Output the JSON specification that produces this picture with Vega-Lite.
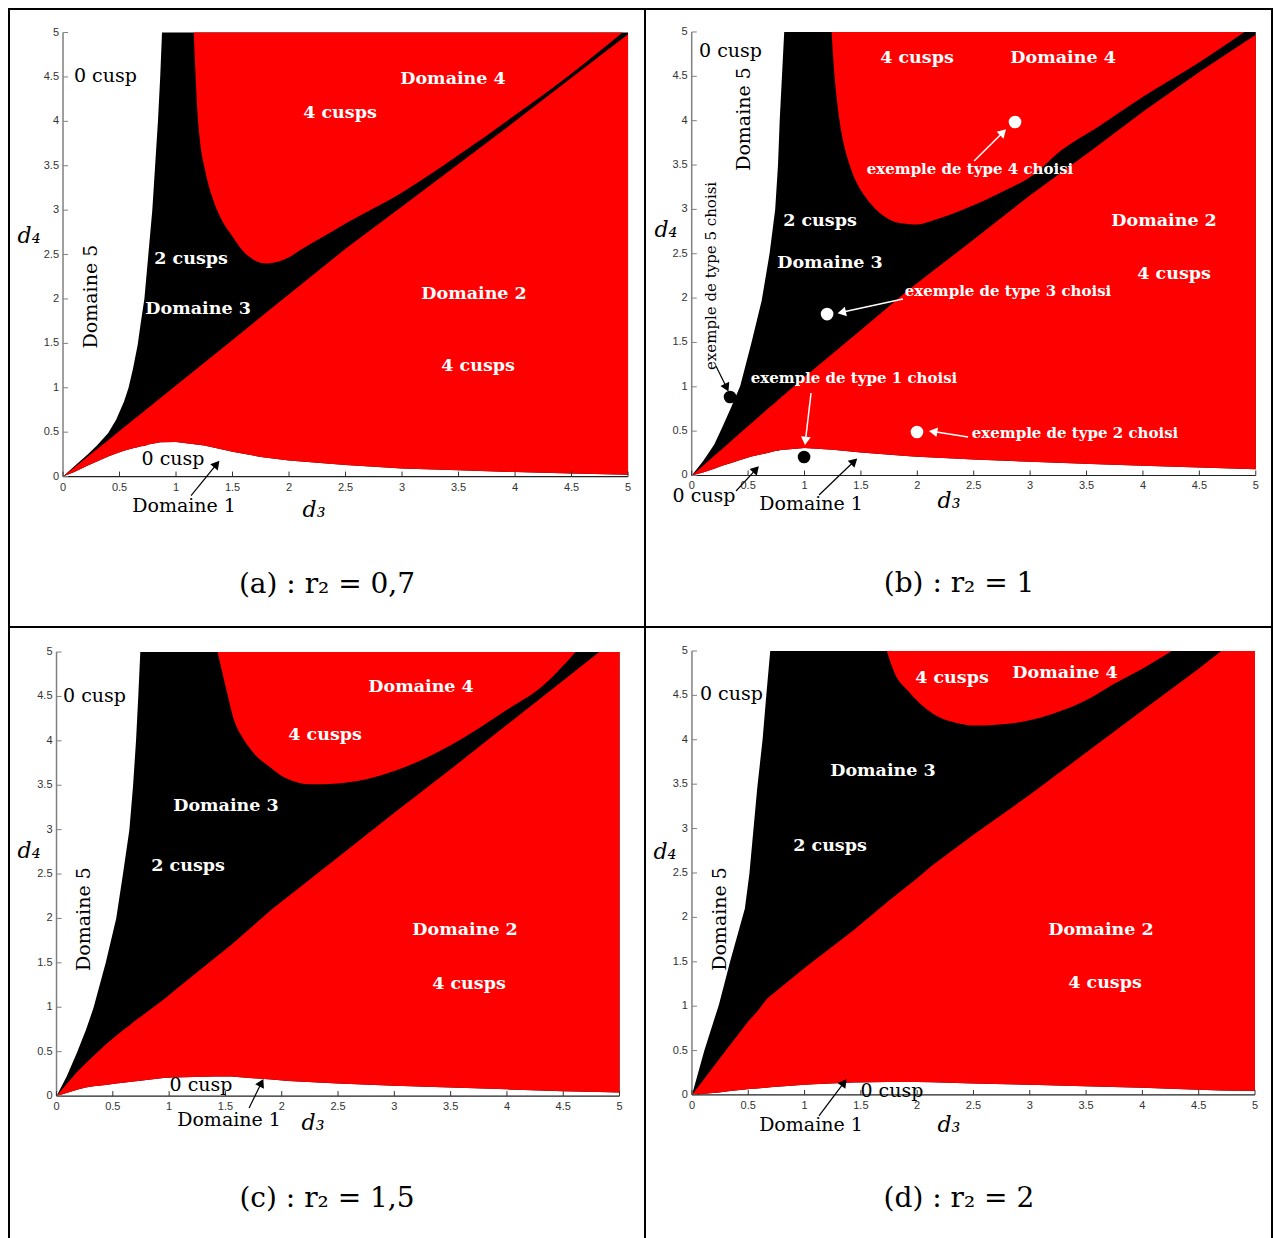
{
"$schema": "https://vega.github.io/schema/vega-lite/v6.json",
"background": "white",
"padding": {"left": 8, "top": 8, "right": 0, "bottom": 0},
"config": {"view": {"stroke": "black", "strokeWidth": 2}, "axis": {"disable": true}},
"datasets": {
"one": [{"k": 1}],
"ticks": [{"v":0,"t":"0"},{"v":0.5,"t":"0.5"},{"v":1,"t":"1"},{"v":1.5,"t":"1.5"},{"v":2,"t":"2"},{"v":2.5,"t":"2.5"},{"v":3,"t":"3"},{"v":3.5,"t":"3.5"},{"v":4,"t":"4"},{"v":4.5,"t":"4.5"},{"v":5,"t":"5"}],
"A_reg": [{"d3":0,"lo":0,"dg":0,"up":0},{"d3":0.1,"lo":0.05,"dg":0.103,"up":0.115},{"d3":0.22,"lo":0.125,"dg":0.226,"up":0.25},{"d3":0.3,"lo":0.17,"dg":0.308,"up":0.35},{"d3":0.4,"lo":0.225,"dg":0.41,"up":0.49},{"d3":0.47,"lo":0.26,"dg":0.482,"up":0.64},{"d3":0.54,"lo":0.29,"dg":0.554,"up":0.845},{"d3":0.58,"lo":0.305,"dg":0.595,"up":1.0},{"d3":0.62,"lo":0.32,"dg":0.636,"up":1.22},{"d3":0.66,"lo":0.33,"dg":0.677,"up":1.48},{"d3":0.69,"lo":0.34,"dg":0.708,"up":1.75},{"d3":0.72,"lo":0.345,"dg":0.739,"up":2.0},{"d3":0.755,"lo":0.36,"dg":0.775,"up":2.5},{"d3":0.79,"lo":0.37,"dg":0.81,"up":3.0},{"d3":0.815,"lo":0.375,"dg":0.836,"up":3.5},{"d3":0.84,"lo":0.38,"dg":0.862,"up":4.0},{"d3":0.86,"lo":0.385,"dg":0.882,"up":4.5},{"d3":0.876,"lo":0.385,"dg":0.899,"up":5},{"d3":1,"lo":0.39,"dg":1.026,"up":5},{"d3":1.25,"lo":0.35,"dg":1.283,"up":5},{"d3":1.5,"lo":0.28,"dg":1.539,"up":5},{"d3":1.75,"lo":0.22,"dg":1.796,"up":5},{"d3":2,"lo":0.18,"dg":2.052,"up":5},{"d3":2.5,"lo":0.13,"dg":2.565,"up":5},{"d3":3,"lo":0.09,"dg":3.04,"up":5},{"d3":3.5,"lo":0.07,"dg":3.52,"up":5},{"d3":4,"lo":0.05,"dg":4.0,"up":5},{"d3":4.5,"lo":0.035,"dg":4.49,"up":5},{"d3":5,"lo":0.02,"dg":4.98,"up":5}],
"A_u": [{"d3":1.157,"b":5},{"d3":1.17,"b":4.6},{"d3":1.185,"b":4.2},{"d3":1.21,"b":3.8},{"d3":1.257,"b":3.45},{"d3":1.32,"b":3.15},{"d3":1.4,"b":2.9},{"d3":1.49,"b":2.72},{"d3":1.6,"b":2.53},{"d3":1.69,"b":2.44},{"d3":1.8,"b":2.4},{"d3":1.87,"b":2.41},{"d3":2,"b":2.47},{"d3":2.1,"b":2.55},{"d3":2.3,"b":2.7},{"d3":2.5,"b":2.85},{"d3":3,"b":3.2},{"d3":3.5,"b":3.62},{"d3":4,"b":4.07},{"d3":4.5,"b":4.54},{"d3":4.95,"b":5}],
"B_reg": [{"d3":0,"lo":0,"dg":0,"up":0},{"d3":0.1,"lo":0.035,"dg":0.11,"up":0.16},{"d3":0.2,"lo":0.075,"dg":0.222,"up":0.35},{"d3":0.27,"lo":0.11,"dg":0.3,"up":0.54},{"d3":0.35,"lo":0.14,"dg":0.39,"up":0.77},{"d3":0.43,"lo":0.175,"dg":0.48,"up":1.01},{"d3":0.53,"lo":0.215,"dg":0.59,"up":1.5},{"d3":0.62,"lo":0.24,"dg":0.69,"up":1.97},{"d3":0.69,"lo":0.26,"dg":0.77,"up":2.5},{"d3":0.74,"lo":0.275,"dg":0.82,"up":3.0},{"d3":0.765,"lo":0.28,"dg":0.85,"up":3.5},{"d3":0.78,"lo":0.285,"dg":0.865,"up":4.0},{"d3":0.8,"lo":0.29,"dg":0.89,"up":4.5},{"d3":0.82,"lo":0.29,"dg":0.91,"up":5},{"d3":1,"lo":0.31,"dg":1.11,"up":5},{"d3":1.25,"lo":0.29,"dg":1.375,"up":5},{"d3":1.5,"lo":0.26,"dg":1.64,"up":5},{"d3":1.9,"lo":0.22,"dg":2.07,"up":5},{"d3":2,"lo":0.21,"dg":2.17,"up":5},{"d3":2.5,"lo":0.18,"dg":2.66,"up":5},{"d3":3,"lo":0.155,"dg":3.16,"up":5},{"d3":3.54,"lo":0.13,"dg":3.66,"up":5},{"d3":4,"lo":0.11,"dg":4.1,"up":5},{"d3":4.5,"lo":0.09,"dg":4.55,"up":5},{"d3":5,"lo":0.07,"dg":4.97,"up":5}],
"B_u": [{"d3":1.24,"b":5},{"d3":1.26,"b":4.6},{"d3":1.29,"b":4.2},{"d3":1.33,"b":3.85},{"d3":1.4,"b":3.5},{"d3":1.47,"b":3.28},{"d3":1.54,"b":3.14},{"d3":1.65,"b":2.98},{"d3":1.75,"b":2.89},{"d3":1.83,"b":2.85},{"d3":2,"b":2.83},{"d3":2.15,"b":2.88},{"d3":2.45,"b":3.02},{"d3":2.74,"b":3.19},{"d3":3.04,"b":3.4},{"d3":3.27,"b":3.66},{"d3":3.6,"b":3.93},{"d3":4,"b":4.27},{"d3":4.5,"b":4.66},{"d3":4.9,"b":5}],
"C_reg": [{"d3":0,"lo":0,"dg":0,"up":0},{"d3":0.09,"lo":0.035,"dg":0.135,"up":0.22},{"d3":0.182,"lo":0.07,"dg":0.27,"up":0.49},{"d3":0.26,"lo":0.095,"dg":0.37,"up":0.74},{"d3":0.328,"lo":0.11,"dg":0.45,"up":0.99},{"d3":0.437,"lo":0.125,"dg":0.58,"up":1.5},{"d3":0.53,"lo":0.14,"dg":0.68,"up":2.0},{"d3":0.59,"lo":0.15,"dg":0.74,"up":2.5},{"d3":0.647,"lo":0.158,"dg":0.795,"up":3.0},{"d3":0.68,"lo":0.163,"dg":0.83,"up":3.5},{"d3":0.706,"lo":0.167,"dg":0.855,"up":4.0},{"d3":0.726,"lo":0.17,"dg":0.875,"up":4.5},{"d3":0.744,"lo":0.173,"dg":0.89,"up":5},{"d3":0.966,"lo":0.205,"dg":1.1,"up":5},{"d3":1.04,"lo":0.21,"dg":1.18,"up":5},{"d3":1.4,"lo":0.22,"dg":1.55,"up":5},{"d3":1.55,"lo":0.22,"dg":1.7,"up":5},{"d3":1.91,"lo":0.185,"dg":2.1,"up":5},{"d3":2.06,"lo":0.17,"dg":2.25,"up":5},{"d3":2.5,"lo":0.14,"dg":2.69,"up":5},{"d3":3,"lo":0.115,"dg":3.19,"up":5},{"d3":3.5,"lo":0.095,"dg":3.68,"up":5},{"d3":4,"lo":0.075,"dg":4.18,"up":5},{"d3":4.5,"lo":0.055,"dg":4.68,"up":5},{"d3":4.82,"lo":0.045,"dg":5,"up":5},{"d3":5,"lo":0.04,"dg":5,"up":5}],
"C_u": [{"d3":1.43,"b":5},{"d3":1.5,"b":4.62},{"d3":1.58,"b":4.22},{"d3":1.66,"b":4.02},{"d3":1.76,"b":3.85},{"d3":1.9,"b":3.7},{"d3":2.02,"b":3.59},{"d3":2.26,"b":3.51},{"d3":2.5,"b":3.52},{"d3":3,"b":3.66},{"d3":3.5,"b":3.95},{"d3":4,"b":4.35},{"d3":4.3,"b":4.6},{"d3":4.61,"b":5}],
"D_reg": [{"d3":0,"lo":0,"dg":0,"up":0},{"d3":0.11,"lo":0.013,"dg":0.183,"up":0.5},{"d3":0.24,"lo":0.029,"dg":0.4,"up":1.02},{"d3":0.34,"lo":0.045,"dg":0.565,"up":1.51},{"d3":0.47,"lo":0.062,"dg":0.78,"up":2.1},{"d3":0.51,"lo":0.067,"dg":0.845,"up":2.49},{"d3":0.58,"lo":0.074,"dg":0.94,"up":3.46},{"d3":0.627,"lo":0.079,"dg":1.02,"up":4.0},{"d3":0.66,"lo":0.082,"dg":1.075,"up":4.5},{"d3":0.695,"lo":0.087,"dg":1.115,"up":5},{"d3":1,"lo":0.115,"dg":1.43,"up":5},{"d3":1.08,"lo":0.12,"dg":1.51,"up":5},{"d3":1.43,"lo":0.14,"dg":1.85,"up":5},{"d3":1.74,"lo":0.145,"dg":2.18,"up":5},{"d3":2,"lo":0.145,"dg":2.44,"up":5},{"d3":2.13,"lo":0.143,"dg":2.58,"up":5},{"d3":2.5,"lo":0.13,"dg":2.93,"up":5},{"d3":3,"lo":0.115,"dg":3.38,"up":5},{"d3":3.4,"lo":0.1,"dg":3.76,"up":5},{"d3":4,"lo":0.08,"dg":4.33,"up":5},{"d3":4.5,"lo":0.06,"dg":4.8,"up":5},{"d3":4.7,"lo":0.05,"dg":5,"up":5},{"d3":5,"lo":0.045,"dg":5,"up":5}],
"D_u": [{"d3":1.73,"b":5},{"d3":1.8,"b":4.75},{"d3":1.92,"b":4.55},{"d3":2.05,"b":4.38},{"d3":2.2,"b":4.25},{"d3":2.35,"b":4.19},{"d3":2.51,"b":4.16},{"d3":2.7,"b":4.17},{"d3":2.87,"b":4.19},{"d3":3.1,"b":4.25},{"d3":3.31,"b":4.34},{"d3":3.55,"b":4.48},{"d3":3.75,"b":4.63},{"d3":4,"b":4.8},{"d3":4.26,"b":5}],
"A_txt": [{"k":"wb","s":"Domaine 4","d3":3.451,"d4":4.482},{"k":"wb","s":"4 cusps","d3":2.451,"d4":4.099},{"k":"wb","s":"2 cusps","d3":1.133,"d4":2.455},{"k":"wb","s":"Domaine 3","d3":1.195,"d4":1.892},{"k":"wb","s":"Domaine 2","d3":3.637,"d4":2.061},{"k":"wb","s":"4 cusps","d3":3.673,"d4":1.25},{"k":"bnl","s":"0 cusp","d3":0.097,"d4":4.505},{"k":"bn","s":"0 cusp","d3":0.973,"d4":0.203},{"k":"bn","s":"Domaine 1","d3":1.071,"d4":-0.327},{"k":"rot","s":"Domaine 5","d3":0.248,"d4":2.027},{"k":"it","s":"d₃","d3":2.221,"d4":-0.372},{"k":"it","s":"d₄","d3":-0.301,"d4":2.714},{"k":"cap","s":"(a) : r₂ = 0,7","d3":2.336,"d4":-1.216}],
"B_txt": [{"k":"wb","s":"4 cusps","d3":1.997,"d4":4.707},{"k":"wb","s":"Domaine 4","d3":3.292,"d4":4.707},{"k":"wb","s":"2 cusps","d3":1.137,"d4":2.869},{"k":"wb","s":"Domaine 3","d3":1.226,"d4":2.396},{"k":"wb","s":"Domaine 2","d3":4.187,"d4":2.869},{"k":"wb","s":"4 cusps","d3":4.276,"d4":2.272},{"k":"ws","s":"exemple de type 4 choisi","d3":2.467,"d4":3.455},{"k":"ws","s":"exemple de type 3 choisi","d3":2.804,"d4":2.08},{"k":"ws","s":"exemple de type 1 choisi","d3":1.439,"d4":1.099},{"k":"ws","s":"exemple de type 2 choisi","d3":3.398,"d4":0.479},{"k":"bnl","s":"0 cusp","d3":0.065,"d4":4.786},{"k":"bn","s":"0 cusp","d3":0.109,"d4":-0.231},{"k":"bn","s":"Domaine 1","d3":1.058,"d4":-0.321},{"k":"rot","s":"Domaine 5","d3":0.464,"d4":4.019},{"k":"rots","s":"exemple de type 5 choisi","d3":0.171,"d4":2.25},{"k":"it","s":"d₃","d3":2.281,"d4":-0.287},{"k":"it","s":"d₄","d3":-0.228,"d4":2.768},{"k":"cap","s":"(b) : r₂ = 1","d3":2.37,"d4":-1.218}],
"C_txt": [{"k":"wb","s":"Domaine 4","d3":3.237,"d4":4.606},{"k":"wb","s":"4 cusps","d3":2.385,"d4":4.065},{"k":"wb","s":"Domaine 3","d3":1.505,"d4":3.266},{"k":"wb","s":"2 cusps","d3":1.168,"d4":2.59},{"k":"wb","s":"Domaine 2","d3":3.628,"d4":1.869},{"k":"wb","s":"4 cusps","d3":3.663,"d4":1.261},{"k":"bnl","s":"0 cusp","d3":0.058,"d4":4.505},{"k":"bn","s":"0 cusp","d3":1.283,"d4":0.124},{"k":"bn","s":"Domaine 1","d3":1.532,"d4":-0.27},{"k":"rot","s":"Domaine 5","d3":0.244,"d4":1.993},{"k":"it","s":"d₃","d3":2.278,"d4":-0.304},{"k":"it","s":"d₄","d3":-0.244,"d4":2.759},{"k":"cap","s":"(c) : r₂ = 1,5","d3":2.402,"d4":-1.16}],
"D_txt": [{"k":"wb","s":"4 cusps","d3":2.309,"d4":4.696},{"k":"wb","s":"Domaine 4","d3":3.313,"d4":4.752},{"k":"wb","s":"Domaine 3","d3":1.696,"d4":3.649},{"k":"wb","s":"2 cusps","d3":1.226,"d4":2.804},{"k":"wb","s":"Domaine 2","d3":3.632,"d4":1.858},{"k":"wb","s":"4 cusps","d3":3.668,"d4":1.261},{"k":"bnl","s":"0 cusp","d3":0.071,"d4":4.516},{"k":"bn","s":"0 cusp","d3":1.776,"d4":0.045},{"k":"bn","s":"Domaine 1","d3":1.057,"d4":-0.338},{"k":"rot","s":"Domaine 5","d3":0.249,"d4":1.982},{"k":"it","s":"d₃","d3":2.282,"d4":-0.338},{"k":"it","s":"d₄","d3":-0.24,"d4":2.736},{"k":"cap","s":"(d) : r₂ = 2","d3":2.371,"d4":-1.171}],
"A_arr": [{"c":"k","d3":1.133,"d4":-0.214,"e3":1.36,"e4":0.14,"ang":39.5}],
"B_arr": [{"c":"k","d3":0.393,"d4":-0.175,"e3":0.57,"e4":0.07,"ang":42.5},{"c":"k","d3":1.129,"d4":-0.22,"e3":1.44,"e4":0.16,"ang":46.5},{"c":"k","d3":0.215,"d4":1.235,"e3":0.31,"e4":0.99,"ang":154.4},{"c":"w","d3":1.058,"d4":0.93,"e3":1.008,"e4":0.39,"ang":186.6},{"c":"w","d3":1.873,"d4":1.99,"e3":1.33,"e4":1.84,"ang":258},{"c":"w","d3":2.503,"d4":3.546,"e3":2.76,"e4":3.87,"ang":45},{"c":"w","d3":2.45,"d4":0.434,"e3":2.14,"e4":0.495,"ang":279}],
"B_dot": [{"c":"k","d3":0.34,"d4":0.885},{"c":"k","d3":0.996,"d4":0.209},{"c":"w","d3":1.2,"d4":1.82},{"c":"w","d3":2.866,"d4":3.985},{"c":"w","d3":1.997,"d4":0.49}],
"C_arr": [{"c":"k","d3":1.71,"d4":-0.135,"e3":1.82,"e4":0.15,"ang":26.6}],
"D_arr": [{"c":"k","d3":1.128,"d4":-0.236,"e3":1.35,"e4":0.14,"ang":36.9}]
},
"columns": 2,
"spacing": 0,
"bounds": "flush",
"resolve": {"scale": {"x": "independent", "y": "independent"}},
"concat": [
{"width": 636, "height": 618, "layer": [
{"data":{"name":"A_reg"},"mark":{"type":"area","color":"#000000"},"encoding":{"x":{"field":"d3","type":"quantitative","scale":{"domain":[-0.478,5.15],"nice":false,"zero":false},"axis":null},"y":{"field":"lo","type":"quantitative","scale":{"domain":[-1.694,5.265],"nice":false,"zero":false},"axis":null},"y2":{"field":"up"}}},
{"data":{"name":"A_reg"},"mark":{"type":"area","color":"#ff0000"},"encoding":{"x":{"field":"d3","type":"quantitative"},"y":{"field":"lo","type":"quantitative"},"y2":{"field":"dg"}}},
{"data":{"name":"A_u"},"mark":{"type":"area","color":"#ff0000","interpolate":"monotone"},"encoding":{"x":{"field":"d3","type":"quantitative"},"y":{"field":"b","type":"quantitative"},"y2":{"datum":5}}},
{"data":{"name":"one"},"mark":{"type":"rule","color":"#808080","strokeWidth":1.5},"encoding":{"x":{"datum":0,"type":"quantitative"},"y":{"datum":0,"type":"quantitative"},"y2":{"datum":5}}},
{"data":{"name":"one"},"mark":{"type":"rule","color":"#222222","strokeWidth":1.2},"encoding":{"x":{"datum":0,"type":"quantitative"},"x2":{"datum":5},"y":{"datum":0,"type":"quantitative"}}},
{"data":{"name":"ticks"},"mark":{"type":"rule","color":"#808080"},"encoding":{"x":{"datum":0,"type":"quantitative"},"x2":{"datum":0.045},"y":{"field":"v","type":"quantitative"}}},
{"data":{"name":"ticks"},"mark":{"type":"rule","color":"#333333"},"encoding":{"x":{"field":"v","type":"quantitative"},"y":{"datum":0,"type":"quantitative"},"y2":{"datum":0.056}}},
{"data":{"name":"ticks"},"mark":{"type":"text","align":"right","baseline":"middle","dx":-4,"font":"Liberation Sans","fontSize":11,"color":"#333333"},"encoding":{"x":{"datum":0,"type":"quantitative"},"y":{"field":"v","type":"quantitative"},"text":{"field":"t"}}},
{"data":{"name":"ticks"},"mark":{"type":"text","align":"center","baseline":"top","dy":5,"font":"Liberation Sans","fontSize":11,"color":"#333333"},"encoding":{"x":{"field":"v","type":"quantitative"},"y":{"datum":0,"type":"quantitative"},"text":{"field":"t"}}},
{"data":{"name":"A_txt"},"transform":[{"filter":"datum.k=='wb'"}],"mark":{"type":"text","font":"DejaVu Serif","fontWeight":"bold","fontSize":17.5,"color":"white","baseline":"middle"},"encoding":{"x":{"field":"d3","type":"quantitative"},"y":{"field":"d4","type":"quantitative"},"text":{"field":"s"}}},
{"data":{"name":"A_txt"},"transform":[{"filter":"datum.k=='bn'"}],"mark":{"type":"text","font":"DejaVu Serif","fontSize":19,"color":"black","baseline":"middle"},"encoding":{"x":{"field":"d3","type":"quantitative"},"y":{"field":"d4","type":"quantitative"},"text":{"field":"s"}}},
{"data":{"name":"A_txt"},"transform":[{"filter":"datum.k=='bnl'"}],"mark":{"type":"text","font":"DejaVu Serif","fontSize":19,"color":"black","baseline":"middle","align":"left"},"encoding":{"x":{"field":"d3","type":"quantitative"},"y":{"field":"d4","type":"quantitative"},"text":{"field":"s"}}},
{"data":{"name":"A_txt"},"transform":[{"filter":"datum.k=='rot'"}],"mark":{"type":"text","font":"DejaVu Serif","fontSize":19,"color":"black","baseline":"middle","angle":270},"encoding":{"x":{"field":"d3","type":"quantitative"},"y":{"field":"d4","type":"quantitative"},"text":{"field":"s"}}},
{"data":{"name":"A_txt"},"transform":[{"filter":"datum.k=='it'"}],"mark":{"type":"text","font":"DejaVu Serif","fontStyle":"italic","fontSize":22,"color":"black","baseline":"middle"},"encoding":{"x":{"field":"d3","type":"quantitative"},"y":{"field":"d4","type":"quantitative"},"text":{"field":"s"}}},
{"data":{"name":"A_txt"},"transform":[{"filter":"datum.k=='cap'"}],"mark":{"type":"text","font":"DejaVu Serif","fontSize":28,"color":"black","baseline":"middle"},"encoding":{"x":{"field":"d3","type":"quantitative"},"y":{"field":"d4","type":"quantitative"},"text":{"field":"s"}}},
{"data":{"name":"A_arr"},"mark":{"type":"rule","color":"black","strokeWidth":1.2},"encoding":{"x":{"field":"d3","type":"quantitative"},"y":{"field":"d4","type":"quantitative"},"x2":{"field":"e3"},"y2":{"field":"e4"}}},
{"data":{"name":"A_arr"},"mark":{"type":"point","shape":"triangle-up","filled":true,"opacity":1,"size":95,"color":"black"},"encoding":{"x":{"field":"e3","type":"quantitative"},"y":{"field":"e4","type":"quantitative"},"angle":{"field":"ang","type":"quantitative","scale":null}}}
]},
{"width": 627, "height": 618, "layer": [
{"data":{"name":"B_reg"},"mark":{"type":"area","color":"#000000"},"encoding":{"x":{"field":"d3","type":"quantitative","scale":{"domain":[-0.414,5.144],"nice":false,"zero":false},"axis":null},"y":{"field":"lo","type":"quantitative","scale":{"domain":[-1.708,5.259],"nice":false,"zero":false},"axis":null},"y2":{"field":"up"}}},
{"data":{"name":"B_reg"},"mark":{"type":"area","color":"#ff0000"},"encoding":{"x":{"field":"d3","type":"quantitative"},"y":{"field":"lo","type":"quantitative"},"y2":{"field":"dg"}}},
{"data":{"name":"B_u"},"mark":{"type":"area","color":"#ff0000","interpolate":"monotone"},"encoding":{"x":{"field":"d3","type":"quantitative"},"y":{"field":"b","type":"quantitative"},"y2":{"datum":5}}},
{"data":{"name":"one"},"mark":{"type":"rule","color":"#808080","strokeWidth":1.5},"encoding":{"x":{"datum":0,"type":"quantitative"},"y":{"datum":0,"type":"quantitative"},"y2":{"datum":5}}},
{"data":{"name":"one"},"mark":{"type":"rule","color":"#222222","strokeWidth":1.2},"encoding":{"x":{"datum":0,"type":"quantitative"},"x2":{"datum":5},"y":{"datum":0,"type":"quantitative"}}},
{"data":{"name":"ticks"},"mark":{"type":"rule","color":"#808080"},"encoding":{"x":{"datum":0,"type":"quantitative"},"x2":{"datum":0.045},"y":{"field":"v","type":"quantitative"}}},
{"data":{"name":"ticks"},"mark":{"type":"rule","color":"#333333"},"encoding":{"x":{"field":"v","type":"quantitative"},"y":{"datum":0,"type":"quantitative"},"y2":{"datum":0.056}}},
{"data":{"name":"ticks"},"mark":{"type":"text","align":"right","baseline":"middle","dx":-4,"font":"Liberation Sans","fontSize":11,"color":"#333333"},"encoding":{"x":{"datum":0,"type":"quantitative"},"y":{"field":"v","type":"quantitative"},"text":{"field":"t"}}},
{"data":{"name":"ticks"},"mark":{"type":"text","align":"center","baseline":"top","dy":5,"font":"Liberation Sans","fontSize":11,"color":"#333333"},"encoding":{"x":{"field":"v","type":"quantitative"},"y":{"datum":0,"type":"quantitative"},"text":{"field":"t"}}},
{"data":{"name":"B_txt"},"transform":[{"filter":"datum.k=='wb'"}],"mark":{"type":"text","font":"DejaVu Serif","fontWeight":"bold","fontSize":17.5,"color":"white","baseline":"middle"},"encoding":{"x":{"field":"d3","type":"quantitative"},"y":{"field":"d4","type":"quantitative"},"text":{"field":"s"}}},
{"data":{"name":"B_txt"},"transform":[{"filter":"datum.k=='ws'"}],"mark":{"type":"text","font":"DejaVu Serif","fontWeight":"bold","fontSize":15,"color":"white","baseline":"middle"},"encoding":{"x":{"field":"d3","type":"quantitative"},"y":{"field":"d4","type":"quantitative"},"text":{"field":"s"}}},
{"data":{"name":"B_txt"},"transform":[{"filter":"datum.k=='bn'"}],"mark":{"type":"text","font":"DejaVu Serif","fontSize":19,"color":"black","baseline":"middle"},"encoding":{"x":{"field":"d3","type":"quantitative"},"y":{"field":"d4","type":"quantitative"},"text":{"field":"s"}}},
{"data":{"name":"B_txt"},"transform":[{"filter":"datum.k=='bnl'"}],"mark":{"type":"text","font":"DejaVu Serif","fontSize":19,"color":"black","baseline":"middle","align":"left"},"encoding":{"x":{"field":"d3","type":"quantitative"},"y":{"field":"d4","type":"quantitative"},"text":{"field":"s"}}},
{"data":{"name":"B_txt"},"transform":[{"filter":"datum.k=='rot'"}],"mark":{"type":"text","font":"DejaVu Serif","fontSize":19,"color":"black","baseline":"middle","angle":270},"encoding":{"x":{"field":"d3","type":"quantitative"},"y":{"field":"d4","type":"quantitative"},"text":{"field":"s"}}},
{"data":{"name":"B_txt"},"transform":[{"filter":"datum.k=='rots'"}],"mark":{"type":"text","font":"DejaVu Serif","fontSize":15,"color":"black","baseline":"middle","angle":270},"encoding":{"x":{"field":"d3","type":"quantitative"},"y":{"field":"d4","type":"quantitative"},"text":{"field":"s"}}},
{"data":{"name":"B_txt"},"transform":[{"filter":"datum.k=='it'"}],"mark":{"type":"text","font":"DejaVu Serif","fontStyle":"italic","fontSize":22,"color":"black","baseline":"middle"},"encoding":{"x":{"field":"d3","type":"quantitative"},"y":{"field":"d4","type":"quantitative"},"text":{"field":"s"}}},
{"data":{"name":"B_txt"},"transform":[{"filter":"datum.k=='cap'"}],"mark":{"type":"text","font":"DejaVu Serif","fontSize":28,"color":"black","baseline":"middle"},"encoding":{"x":{"field":"d3","type":"quantitative"},"y":{"field":"d4","type":"quantitative"},"text":{"field":"s"}}},
{"data":{"name":"B_arr"},"transform":[{"filter":"datum.c=='k'"}],"mark":{"type":"rule","color":"black","strokeWidth":1.2},"encoding":{"x":{"field":"d3","type":"quantitative"},"y":{"field":"d4","type":"quantitative"},"x2":{"field":"e3"},"y2":{"field":"e4"}}},
{"data":{"name":"B_arr"},"transform":[{"filter":"datum.c=='k'"}],"mark":{"type":"point","shape":"triangle-up","filled":true,"opacity":1,"size":95,"color":"black"},"encoding":{"x":{"field":"e3","type":"quantitative"},"y":{"field":"e4","type":"quantitative"},"angle":{"field":"ang","type":"quantitative","scale":null}}},
{"data":{"name":"B_arr"},"transform":[{"filter":"datum.c=='w'"}],"mark":{"type":"rule","color":"white","strokeWidth":1.5},"encoding":{"x":{"field":"d3","type":"quantitative"},"y":{"field":"d4","type":"quantitative"},"x2":{"field":"e3"},"y2":{"field":"e4"}}},
{"data":{"name":"B_arr"},"transform":[{"filter":"datum.c=='w'"}],"mark":{"type":"point","shape":"triangle-up","filled":true,"opacity":1,"size":95,"color":"white"},"encoding":{"x":{"field":"e3","type":"quantitative"},"y":{"field":"e4","type":"quantitative"},"angle":{"field":"ang","type":"quantitative","scale":null}}},
{"data":{"name":"B_dot"},"transform":[{"filter":"datum.c=='k'"}],"mark":{"type":"point","shape":"circle","filled":true,"opacity":1,"size":160,"color":"black"},"encoding":{"x":{"field":"d3","type":"quantitative"},"y":{"field":"d4","type":"quantitative"}}},
{"data":{"name":"B_dot"},"transform":[{"filter":"datum.c=='w'"}],"mark":{"type":"point","shape":"circle","filled":true,"opacity":1,"size":160,"color":"white"},"encoding":{"x":{"field":"d3","type":"quantitative"},"y":{"field":"d4","type":"quantitative"}}}
]},
{"width": 636, "height": 612, "layer": [
{"data":{"name":"C_reg"},"mark":{"type":"area","color":"#000000"},"encoding":{"x":{"field":"d3","type":"quantitative","scale":{"domain":[-0.422,5.226],"nice":false,"zero":false},"axis":null},"y":{"field":"lo","type":"quantitative","scale":{"domain":[-1.61,5.282],"nice":false,"zero":false},"axis":null},"y2":{"field":"up"}}},
{"data":{"name":"C_reg"},"mark":{"type":"area","color":"#ff0000"},"encoding":{"x":{"field":"d3","type":"quantitative"},"y":{"field":"lo","type":"quantitative"},"y2":{"field":"dg"}}},
{"data":{"name":"C_u"},"mark":{"type":"area","color":"#ff0000","interpolate":"monotone"},"encoding":{"x":{"field":"d3","type":"quantitative"},"y":{"field":"b","type":"quantitative"},"y2":{"datum":5}}},
{"data":{"name":"one"},"mark":{"type":"rule","color":"#808080","strokeWidth":1.5},"encoding":{"x":{"datum":0,"type":"quantitative"},"y":{"datum":0,"type":"quantitative"},"y2":{"datum":5}}},
{"data":{"name":"one"},"mark":{"type":"rule","color":"#222222","strokeWidth":1.2},"encoding":{"x":{"datum":0,"type":"quantitative"},"x2":{"datum":5},"y":{"datum":0,"type":"quantitative"}}},
{"data":{"name":"ticks"},"mark":{"type":"rule","color":"#808080"},"encoding":{"x":{"datum":0,"type":"quantitative"},"x2":{"datum":0.045},"y":{"field":"v","type":"quantitative"}}},
{"data":{"name":"ticks"},"mark":{"type":"rule","color":"#333333"},"encoding":{"x":{"field":"v","type":"quantitative"},"y":{"datum":0,"type":"quantitative"},"y2":{"datum":0.056}}},
{"data":{"name":"ticks"},"mark":{"type":"text","align":"right","baseline":"middle","dx":-4,"font":"Liberation Sans","fontSize":11,"color":"#333333"},"encoding":{"x":{"datum":0,"type":"quantitative"},"y":{"field":"v","type":"quantitative"},"text":{"field":"t"}}},
{"data":{"name":"ticks"},"mark":{"type":"text","align":"center","baseline":"top","dy":5,"font":"Liberation Sans","fontSize":11,"color":"#333333"},"encoding":{"x":{"field":"v","type":"quantitative"},"y":{"datum":0,"type":"quantitative"},"text":{"field":"t"}}},
{"data":{"name":"C_txt"},"transform":[{"filter":"datum.k=='wb'"}],"mark":{"type":"text","font":"DejaVu Serif","fontWeight":"bold","fontSize":17.5,"color":"white","baseline":"middle"},"encoding":{"x":{"field":"d3","type":"quantitative"},"y":{"field":"d4","type":"quantitative"},"text":{"field":"s"}}},
{"data":{"name":"C_txt"},"transform":[{"filter":"datum.k=='bn'"}],"mark":{"type":"text","font":"DejaVu Serif","fontSize":19,"color":"black","baseline":"middle"},"encoding":{"x":{"field":"d3","type":"quantitative"},"y":{"field":"d4","type":"quantitative"},"text":{"field":"s"}}},
{"data":{"name":"C_txt"},"transform":[{"filter":"datum.k=='bnl'"}],"mark":{"type":"text","font":"DejaVu Serif","fontSize":19,"color":"black","baseline":"middle","align":"left"},"encoding":{"x":{"field":"d3","type":"quantitative"},"y":{"field":"d4","type":"quantitative"},"text":{"field":"s"}}},
{"data":{"name":"C_txt"},"transform":[{"filter":"datum.k=='rot'"}],"mark":{"type":"text","font":"DejaVu Serif","fontSize":19,"color":"black","baseline":"middle","angle":270},"encoding":{"x":{"field":"d3","type":"quantitative"},"y":{"field":"d4","type":"quantitative"},"text":{"field":"s"}}},
{"data":{"name":"C_txt"},"transform":[{"filter":"datum.k=='it'"}],"mark":{"type":"text","font":"DejaVu Serif","fontStyle":"italic","fontSize":22,"color":"black","baseline":"middle"},"encoding":{"x":{"field":"d3","type":"quantitative"},"y":{"field":"d4","type":"quantitative"},"text":{"field":"s"}}},
{"data":{"name":"C_txt"},"transform":[{"filter":"datum.k=='cap'"}],"mark":{"type":"text","font":"DejaVu Serif","fontSize":28,"color":"black","baseline":"middle"},"encoding":{"x":{"field":"d3","type":"quantitative"},"y":{"field":"d4","type":"quantitative"},"text":{"field":"s"}}},
{"data":{"name":"C_arr"},"mark":{"type":"rule","color":"black","strokeWidth":1.2},"encoding":{"x":{"field":"d3","type":"quantitative"},"y":{"field":"d4","type":"quantitative"},"x2":{"field":"e3"},"y2":{"field":"e4"}}},
{"data":{"name":"C_arr"},"mark":{"type":"point","shape":"triangle-up","filled":true,"opacity":1,"size":95,"color":"black"},"encoding":{"x":{"field":"e3","type":"quantitative"},"y":{"field":"e4","type":"quantitative"},"angle":{"field":"ang","type":"quantitative","scale":null}}}
]},
{"width": 627, "height": 612, "layer": [
{"data":{"name":"D_reg"},"mark":{"type":"area","color":"#000000"},"encoding":{"x":{"field":"d3","type":"quantitative","scale":{"domain":[-0.417,5.151],"nice":false,"zero":false},"axis":null},"y":{"field":"lo","type":"quantitative","scale":{"domain":[-1.622,5.27],"nice":false,"zero":false},"axis":null},"y2":{"field":"up"}}},
{"data":{"name":"D_reg"},"mark":{"type":"area","color":"#ff0000"},"encoding":{"x":{"field":"d3","type":"quantitative"},"y":{"field":"lo","type":"quantitative"},"y2":{"field":"dg"}}},
{"data":{"name":"D_u"},"mark":{"type":"area","color":"#ff0000","interpolate":"monotone"},"encoding":{"x":{"field":"d3","type":"quantitative"},"y":{"field":"b","type":"quantitative"},"y2":{"datum":5}}},
{"data":{"name":"one"},"mark":{"type":"rule","color":"#808080","strokeWidth":1.5},"encoding":{"x":{"datum":0,"type":"quantitative"},"y":{"datum":0,"type":"quantitative"},"y2":{"datum":5}}},
{"data":{"name":"one"},"mark":{"type":"rule","color":"#222222","strokeWidth":1.2},"encoding":{"x":{"datum":0,"type":"quantitative"},"x2":{"datum":5},"y":{"datum":0,"type":"quantitative"}}},
{"data":{"name":"ticks"},"mark":{"type":"rule","color":"#808080"},"encoding":{"x":{"datum":0,"type":"quantitative"},"x2":{"datum":0.045},"y":{"field":"v","type":"quantitative"}}},
{"data":{"name":"ticks"},"mark":{"type":"rule","color":"#333333"},"encoding":{"x":{"field":"v","type":"quantitative"},"y":{"datum":0,"type":"quantitative"},"y2":{"datum":0.056}}},
{"data":{"name":"ticks"},"mark":{"type":"text","align":"right","baseline":"middle","dx":-4,"font":"Liberation Sans","fontSize":11,"color":"#333333"},"encoding":{"x":{"datum":0,"type":"quantitative"},"y":{"field":"v","type":"quantitative"},"text":{"field":"t"}}},
{"data":{"name":"ticks"},"mark":{"type":"text","align":"center","baseline":"top","dy":5,"font":"Liberation Sans","fontSize":11,"color":"#333333"},"encoding":{"x":{"field":"v","type":"quantitative"},"y":{"datum":0,"type":"quantitative"},"text":{"field":"t"}}},
{"data":{"name":"D_txt"},"transform":[{"filter":"datum.k=='wb'"}],"mark":{"type":"text","font":"DejaVu Serif","fontWeight":"bold","fontSize":17.5,"color":"white","baseline":"middle"},"encoding":{"x":{"field":"d3","type":"quantitative"},"y":{"field":"d4","type":"quantitative"},"text":{"field":"s"}}},
{"data":{"name":"D_txt"},"transform":[{"filter":"datum.k=='bn'"}],"mark":{"type":"text","font":"DejaVu Serif","fontSize":19,"color":"black","baseline":"middle"},"encoding":{"x":{"field":"d3","type":"quantitative"},"y":{"field":"d4","type":"quantitative"},"text":{"field":"s"}}},
{"data":{"name":"D_txt"},"transform":[{"filter":"datum.k=='bnl'"}],"mark":{"type":"text","font":"DejaVu Serif","fontSize":19,"color":"black","baseline":"middle","align":"left"},"encoding":{"x":{"field":"d3","type":"quantitative"},"y":{"field":"d4","type":"quantitative"},"text":{"field":"s"}}},
{"data":{"name":"D_txt"},"transform":[{"filter":"datum.k=='rot'"}],"mark":{"type":"text","font":"DejaVu Serif","fontSize":19,"color":"black","baseline":"middle","angle":270},"encoding":{"x":{"field":"d3","type":"quantitative"},"y":{"field":"d4","type":"quantitative"},"text":{"field":"s"}}},
{"data":{"name":"D_txt"},"transform":[{"filter":"datum.k=='it'"}],"mark":{"type":"text","font":"DejaVu Serif","fontStyle":"italic","fontSize":22,"color":"black","baseline":"middle"},"encoding":{"x":{"field":"d3","type":"quantitative"},"y":{"field":"d4","type":"quantitative"},"text":{"field":"s"}}},
{"data":{"name":"D_txt"},"transform":[{"filter":"datum.k=='cap'"}],"mark":{"type":"text","font":"DejaVu Serif","fontSize":28,"color":"black","baseline":"middle"},"encoding":{"x":{"field":"d3","type":"quantitative"},"y":{"field":"d4","type":"quantitative"},"text":{"field":"s"}}},
{"data":{"name":"D_arr"},"mark":{"type":"rule","color":"black","strokeWidth":1.2},"encoding":{"x":{"field":"d3","type":"quantitative"},"y":{"field":"d4","type":"quantitative"},"x2":{"field":"e3"},"y2":{"field":"e4"}}},
{"data":{"name":"D_arr"},"mark":{"type":"point","shape":"triangle-up","filled":true,"opacity":1,"size":95,"color":"black"},"encoding":{"x":{"field":"e3","type":"quantitative"},"y":{"field":"e4","type":"quantitative"},"angle":{"field":"ang","type":"quantitative","scale":null}}}
]}
]
}
